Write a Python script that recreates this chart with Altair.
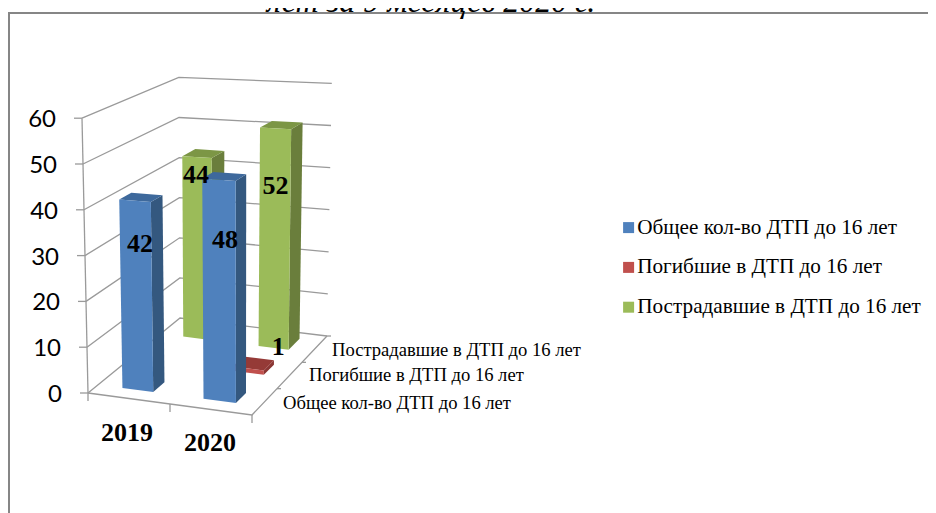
import altair as alt

YEARS = ["2019", "2020"]
SERIES = ["Общее кол-во ДТП до 16 лет", "Погибшие в ДТП до 16 лет", "Пострадавшие в ДТП до 16 лет"]
VALUES_TOTAL = [42, 48]
VALUES_DEAD = [None, 1]
VALUES_HURT = [44, 52]
Y_TICKS = [0, 10, 20, 30, 40, 50, 60]
TITLE = "лет за 9 месяцев 2020 г."

FRONT = ["#4F81BD", "#C0504D", "#9BBB59"]
SIDE = ["#34587F", "#8A3533", "#6A7E3C"]
TOP = ["#3E699C", "#953A37", "#7C9645"]
GRID = "#9a9a9a"
FRAME = "#868686"
SERIF = "Liberation Serif"

U_SPANS = [(0.15, 0.34), (0.65, 0.85)]
W_SPANS = [(0.11, 0.24), (0.47, 0.60), (0.79, 0.93)]
LABEL_OFFSET = {(0, 0): (5, 43), (0, 2): (-1, 18), (1, 0): (6, 60), (1, 2): (0, 58), (1, 1): (30, -21)}
BAR_K = 0.06


def proj(u, w, v=0.0, adj=0.0):
    """3D chart position -> page pixel: bilinear floor, linear height."""
    lx, ly = 88 + 92 * w, 393 - 75 * w
    rx, ry = 252 + 75 * w, 415 - 79 * w
    k = 4.58 + 0.2 * u - 0.57 * w - adj
    t = -0.10 + 0.10 * u + 0.08 * w
    return [lx + (rx - lx) * u + t * v, ly + (ry - ly) * u - k * v]


def bar(u, w, v=0.0):
    return proj(u, w, v, BAR_K)


def poly(pts, **props):
    return {"type": "Feature", "properties": props,
            "geometry": {"type": "Polygon", "coordinates": [pts + [pts[0]]]}}


def line(pts, **props):
    return {"type": "Feature", "properties": props,
            "geometry": {"type": "LineString", "coordinates": pts}}


PROJ = dict(type="identity", scale=1, translate=[-8, -8])


def stroke_layer(feats, color, width):
    return alt.Chart(alt.Data(values=feats)).mark_geoshape(
        filled=False, stroke=color, strokeWidth=width).project(**PROJ)


layers = []

# frame
layers.append(stroke_layer([line([[936, 13], [9, 13], [9, 520]], k="f")], FRAME, 2))

# walls and floor
grid = []
for v in Y_TICKS:
    grid.append(line([proj(0, 0, v), proj(0, 1, v), proj(1, 1, v)], k="g"))
grid.append(line([proj(0, 0), proj(1, 0), proj(1, 1)], k="g"))
grid.append(line([proj(0, 0, 0), proj(0, 0, 60)], k="g"))
for v in Y_TICKS:
    a = proj(0, 0, v)
    grid.append(line([a, [a[0] - 8, a[1]]], k="g"))
for u in (0, 0.5, 1):
    a = proj(u, 0)
    grid.append(line([a, [a[0], a[1] + 8]], k="g"))
for w in (1 / 3, 2 / 3, 1):
    a = proj(1, w)
    grid.append(line([a, [a[0] + 4, a[1]]], k="g"))
layers.append(stroke_layer(grid, GRID, 1.3))

scale = alt.Scale(domain=SERIES, range=FRONT)
rows = [(2, VALUES_HURT), (1, VALUES_DEAD), (0, VALUES_TOTAL)]
labels = []
for s, vals in rows:
    w0, w1 = W_SPANS[s]
    faces, fronts = [], []
    for i, v in enumerate(vals):
        if v is None:
            continue
        u0, u1 = U_SPANS[i]
        faces.append(poly([bar(u1, w0), bar(u1, w1), bar(u1, w1, v), bar(u1, w0, v)], fill=SIDE[s]))
        faces.append(poly([bar(u0, w0, v), bar(u1, w0, v), bar(u1, w1, v), bar(u0, w1, v)], fill=TOP[s]))
        fronts.append(poly([bar(u0, w0), bar(u1, w0), bar(u1, w0, v), bar(u0, w0, v)], series=SERIES[s]))
        top = bar((u0 + u1) / 2, w0, v)
        dx, dy = LABEL_OFFSET[(i, s)]
        labels.append({"lon": top[0] + dx, "lat": top[1] + dy, "t": str(v)})
    layers.append(alt.Chart(alt.Data(values=faces)).mark_geoshape(strokeWidth=0).encode(
        fill=alt.Fill("properties.fill:N", scale=None)).project(**PROJ))
    layers.append(alt.Chart(alt.Data(values=fronts)).mark_geoshape(strokeWidth=0).encode(
        fill=alt.Fill("properties.series:N", scale=scale, legend=alt.Legend(
            title=None, orient="none", legendX=610, legendY=209, padding=0, symbolType="square",
            symbolSize=121, symbolStrokeWidth=0, labelFont=SERIF, labelFontSize=21.2,
            labelColor="#000", labelLimit=400, rowPadding=17.8, labelOffset={"expr": "-2"}))
    ).project(**PROJ))


def text_layer(rows, size, **kw):
    return alt.Chart(alt.Data(values=rows)).mark_text(fontSize=size, **kw).encode(
        longitude="lon:Q", latitude="lat:Q", text="t:N").project(**PROJ)


layers.append(text_layer(labels, 26, font=SERIF, fontWeight="bold", color="#000"))

y_labels = []
for v in Y_TICKS:
    a = proj(0, 0, v)
    y_labels.append({"lon": a[0] - 26, "lat": a[1] + 2, "t": str(v)})
layers.append(text_layer(y_labels, 24, font="Lato", color="#000", align="right"))

x_labels = [{"lon": 127, "lat": 433, "t": YEARS[0]}, {"lon": 210, "lat": 443, "t": YEARS[1]}]
layers.append(text_layer(x_labels, 26, font=SERIF, fontWeight="bold", color="#000"))

depth_labels = [{"lon": 283, "lat": 403, "t": SERIES[0]},
                {"lon": 309, "lat": 375, "t": SERIES[1]},
                {"lon": 332, "lat": 350, "t": SERIES[2]}]
layers.append(text_layer(depth_labels, 18.6, font=SERIF, color="#000", align="left"))

layers.append(text_layer([{"lon": 267, "lat": 12, "t": TITLE}], 32, font=SERIF, fontStyle="italic",
                         color="#000", align="left", baseline="alphabetic"))

chart = alt.layer(*layers).properties(width=920, height=505, padding=0).configure_view(stroke=None)
chart.save("out.html", embed_options={"renderer": "svg", "actions": False})
